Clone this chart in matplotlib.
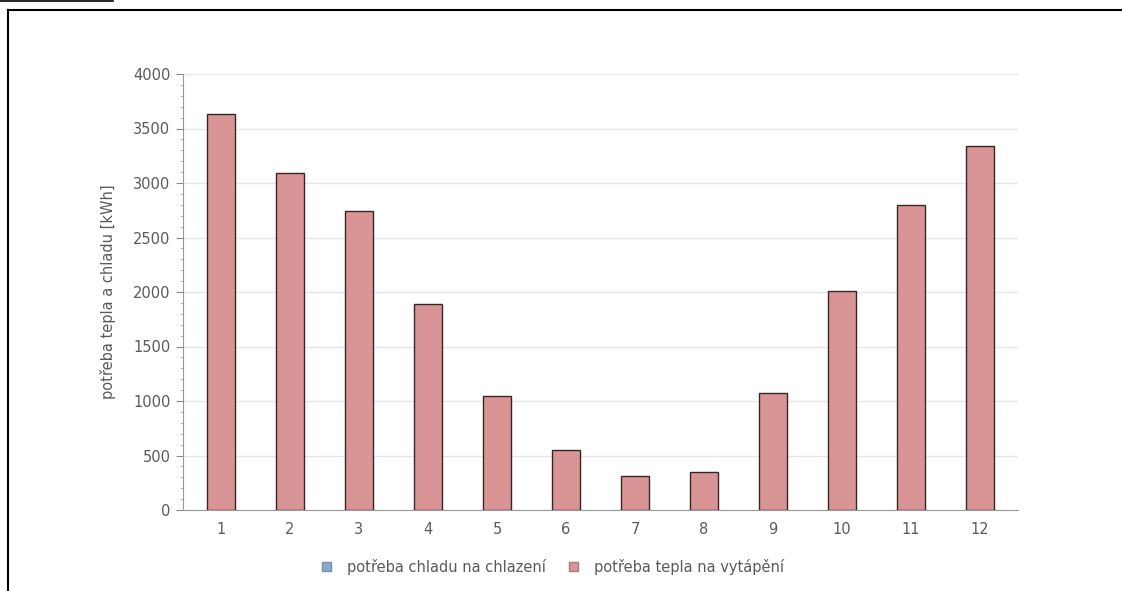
import matplotlib
matplotlib.use("Agg")
import matplotlib.pyplot as plt
from matplotlib.lines import Line2D
from matplotlib.patches import Patch

months = [1, 2, 3, 4, 5, 6, 7, 8, 9, 10, 11, 12]
heating = [3630, 3090, 2745, 1890, 1050, 555, 315, 350, 1075, 2010, 2800, 3340]
y_ticks = [0, 500, 1000, 1500, 2000, 2500, 3000, 3500, 4000]
legend_labels = ["potřeba chladu na chlazení", "potřeba tepla na vytápění"]

heat_color = "#d99595"
cool_color = "#8fa6c8"
text_color = "#5a5a5a"
fs = 10.5

fig = plt.figure(figsize=(11.22, 5.91), dpi=100)
ax = fig.add_axes([183 / 1122, 1 - 510 / 591, 835 / 1122, 436 / 591])

ax.bar(months, heating, width=0.4, color=heat_color, edgecolor="#3a2424", linewidth=1.0, zorder=3)
ax.set_xlim(0.45, 12.55)
ax.set_ylim(0, 4000)
ax.set_xticks(months)
ax.set_yticks(y_ticks)
ax.set_yticks(range(0, 4001, 100), minor=True)
ax.tick_params(axis="x", length=0, pad=9, labelsize=fs, labelcolor=text_color)
ax.tick_params(axis="y", which="major", length=5, color="#888888", pad=4, labelsize=fs, labelcolor=text_color)
ax.tick_params(axis="y", which="minor", length=2.5, color="#aaaaaa")
ax.grid(axis="y", which="major", color="#e6e6e6", linewidth=1, zorder=0)
for side in ("top", "right"):
    ax.spines[side].set_visible(False)
for side in ("left", "bottom"):
    ax.spines[side].set_color("#999999")
ax.set_ylabel("potřeba tepla a chladu [kWh]", fontsize=fs, color=text_color, labelpad=12)

handles = [
    Patch(facecolor=cool_color, edgecolor="#7a8fb0", label=legend_labels[0]),
    Patch(facecolor=heat_color, edgecolor="#b07a7a", label=legend_labels[1]),
]
fig.legend(handles=handles, loc="center", bbox_to_anchor=(553 / 1122, 1 - 567 / 591), ncol=2,
           frameon=False, fontsize=fs, handlelength=0.6, handleheight=0.6, handletextpad=1.1,
           columnspacing=1.6, labelcolor=text_color)

# page frame around the chart
fig.add_artist(Line2D([8 / 1122, 1], [1 - 10 / 591, 1 - 10 / 591], color="black", linewidth=1.5))
fig.add_artist(Line2D([8 / 1122, 8 / 1122], [0, 1 - 10 / 591], color="black", linewidth=1.5))
fig.add_artist(Line2D([0, 113 / 1122], [1 - 0.5 / 591, 1 - 0.5 / 591], color="black", linewidth=1.2))

fig.savefig("out.png", dpi=100, facecolor="white")
